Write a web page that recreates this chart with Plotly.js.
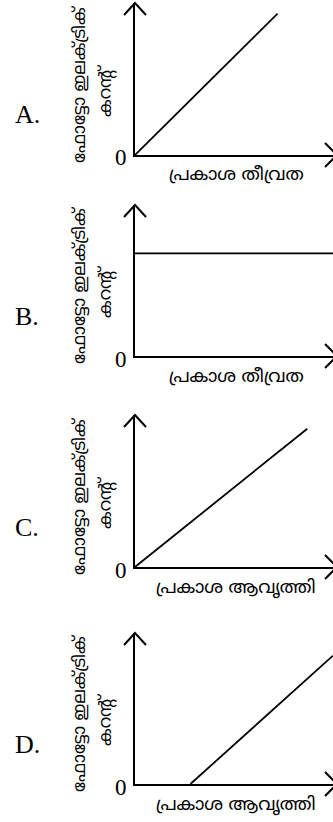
<!DOCTYPE html>
<html>
<head>
<meta charset="utf-8">
<script src="https://cdn.plot.ly/plotly-3.0.1.min.js"></script>
<style>
  html, body { margin: 0; padding: 0; background: #fff; }
  #plot { width: 333px; height: 822px; }
</style>
</head>
<body>
<div id="plot"></div>
<script>
// panel labels and axis titles
const panelLetters = ['A.', 'B.', 'C.', 'D.'];
const yTitleLine1 = 'ഫോട്ടോ ഇലക്ട്രിക്';
const yTitleLine2 = 'കറന്റ്';
const xTitles = ['പ്രകാശ തീവ്രത', 'പ്രകാശ തീവ്രത', 'പ്രകാശ ആവൃത്തി', 'പ്രകാശ ആവൃത്തി'];

// current vs intensity / frequency (arbitrary units 0-10)
const aX = [0, 7.2];
const aY = [0, 9.3];
const bX = [0, 10];
const bY = [6.8, 6.8];
const cX = [0, 8.7];
const cY = [0, 9.1];
const dX = [2.8, 10];
const dY = [0, 8.5];

const lineXs = [aX, bX, cX, dX];
const lineYs = [aY, bY, cY, dY];

// vertical slot of each panel (px from top: arrow tip, x axis)
const panelTops = [3, 205, 415, 633];
const panelAxes = [155, 356, 567, 784];

const W = 333, H = 822;
const xStart = 135 / W;

const data = [];
const layout = {
    width: W,
    height: H,
    margin: {l: 0, r: 0, t: 0, b: 0},
    paper_bgcolor: '#fff',
    plot_bgcolor: 'rgba(0,0,0,0)',
    showlegend: false,
    shapes: [],
    annotations: []
};

const serif = 'Liberation Serif, Times New Roman, serif';
const mal = 'Noto Sans Malayalam, Noto Sans, sans-serif';

for (let i = 0; i < 4; i++) {
    const n = i === 0 ? '' : String(i + 1);
    const xr = 'x' + n, yr = 'y' + n;

    data.push({
        x: lineXs[i],
        y: lineYs[i],
        xaxis: xr,
        yaxis: yr,
        mode: 'lines',
        line: {color: '#000', width: 1.8},
        hoverinfo: 'skip'
    });

    const axisStyle = {
        range: [0, 10],
        showline: true,
        linecolor: '#000',
        linewidth: 2,
        showgrid: false,
        zeroline: false,
        showticklabels: false,
        ticks: '',
        fixedrange: true
    };
    layout['xaxis' + n] = Object.assign({}, axisStyle, {domain: [xStart, 1], anchor: yr});
    layout['yaxis' + n] = Object.assign({}, axisStyle, {
        domain: [1 - panelAxes[i] / H, 1 - panelTops[i] / H],
        anchor: xr
    });

    // open arrow heads on both axes
    layout.shapes.push({
        type: 'path', xref: xr + ' domain', yref: yr + ' domain',
        xsizemode: 'pixel', ysizemode: 'pixel', xanchor: 0, yanchor: 1,
        path: 'M-11,-12 L0,0 L11,-12',
        line: {color: '#000', width: 2}
    });
    layout.shapes.push({
        type: 'path', xref: xr + ' domain', yref: yr + ' domain',
        xsizemode: 'pixel', ysizemode: 'pixel', xanchor: 1, yanchor: 0,
        path: 'M-8,12 L4,0 L-8,-12',
        line: {color: '#000', width: 2}
    });

    const dx = xr + ' domain', dy = yr + ' domain';
    layout.annotations.push(
        {text: panelLetters[i], xref: 'paper', x: 13 / W, xanchor: 'left',
         yref: dy, y: 0, yshift: 40, yanchor: 'middle', showarrow: false,
         font: {family: serif, size: 26, color: '#000'}},
        {text: '0', xref: dx, x: 0, xshift: -6, xanchor: 'right',
         yref: dy, y: 0, yshift: -3, yanchor: 'middle', showarrow: false,
         font: {family: serif, size: 23, color: '#000'}},
        {text: yTitleLine1, xref: dx, x: 0, xshift: -54, xanchor: 'center',
         yref: dy, y: 0, yshift: 71, yanchor: 'middle', textangle: -90, showarrow: false,
         font: {family: mal, size: 17, weight: 400, color: '#000'}},
        {text: yTitleLine2, xref: dx, x: 0, xshift: -28, xanchor: 'center',
         yref: dy, y: 0, yshift: 64, yanchor: 'middle', textangle: -90, showarrow: false,
         font: {family: mal, size: 17, weight: 400, color: '#000'}},
        {text: xTitles[i], xref: dx, x: 0.5, xshift: 2, xanchor: 'center',
         yref: dy, y: 0, yshift: -21, yanchor: 'middle', showarrow: false,
         font: {family: mal, size: 18, weight: 400, color: '#000'}}
    );
}

Plotly.newPlot('plot', data, layout, {staticPlot: true, displayModeBar: false});
</script>
</body>
</html>
